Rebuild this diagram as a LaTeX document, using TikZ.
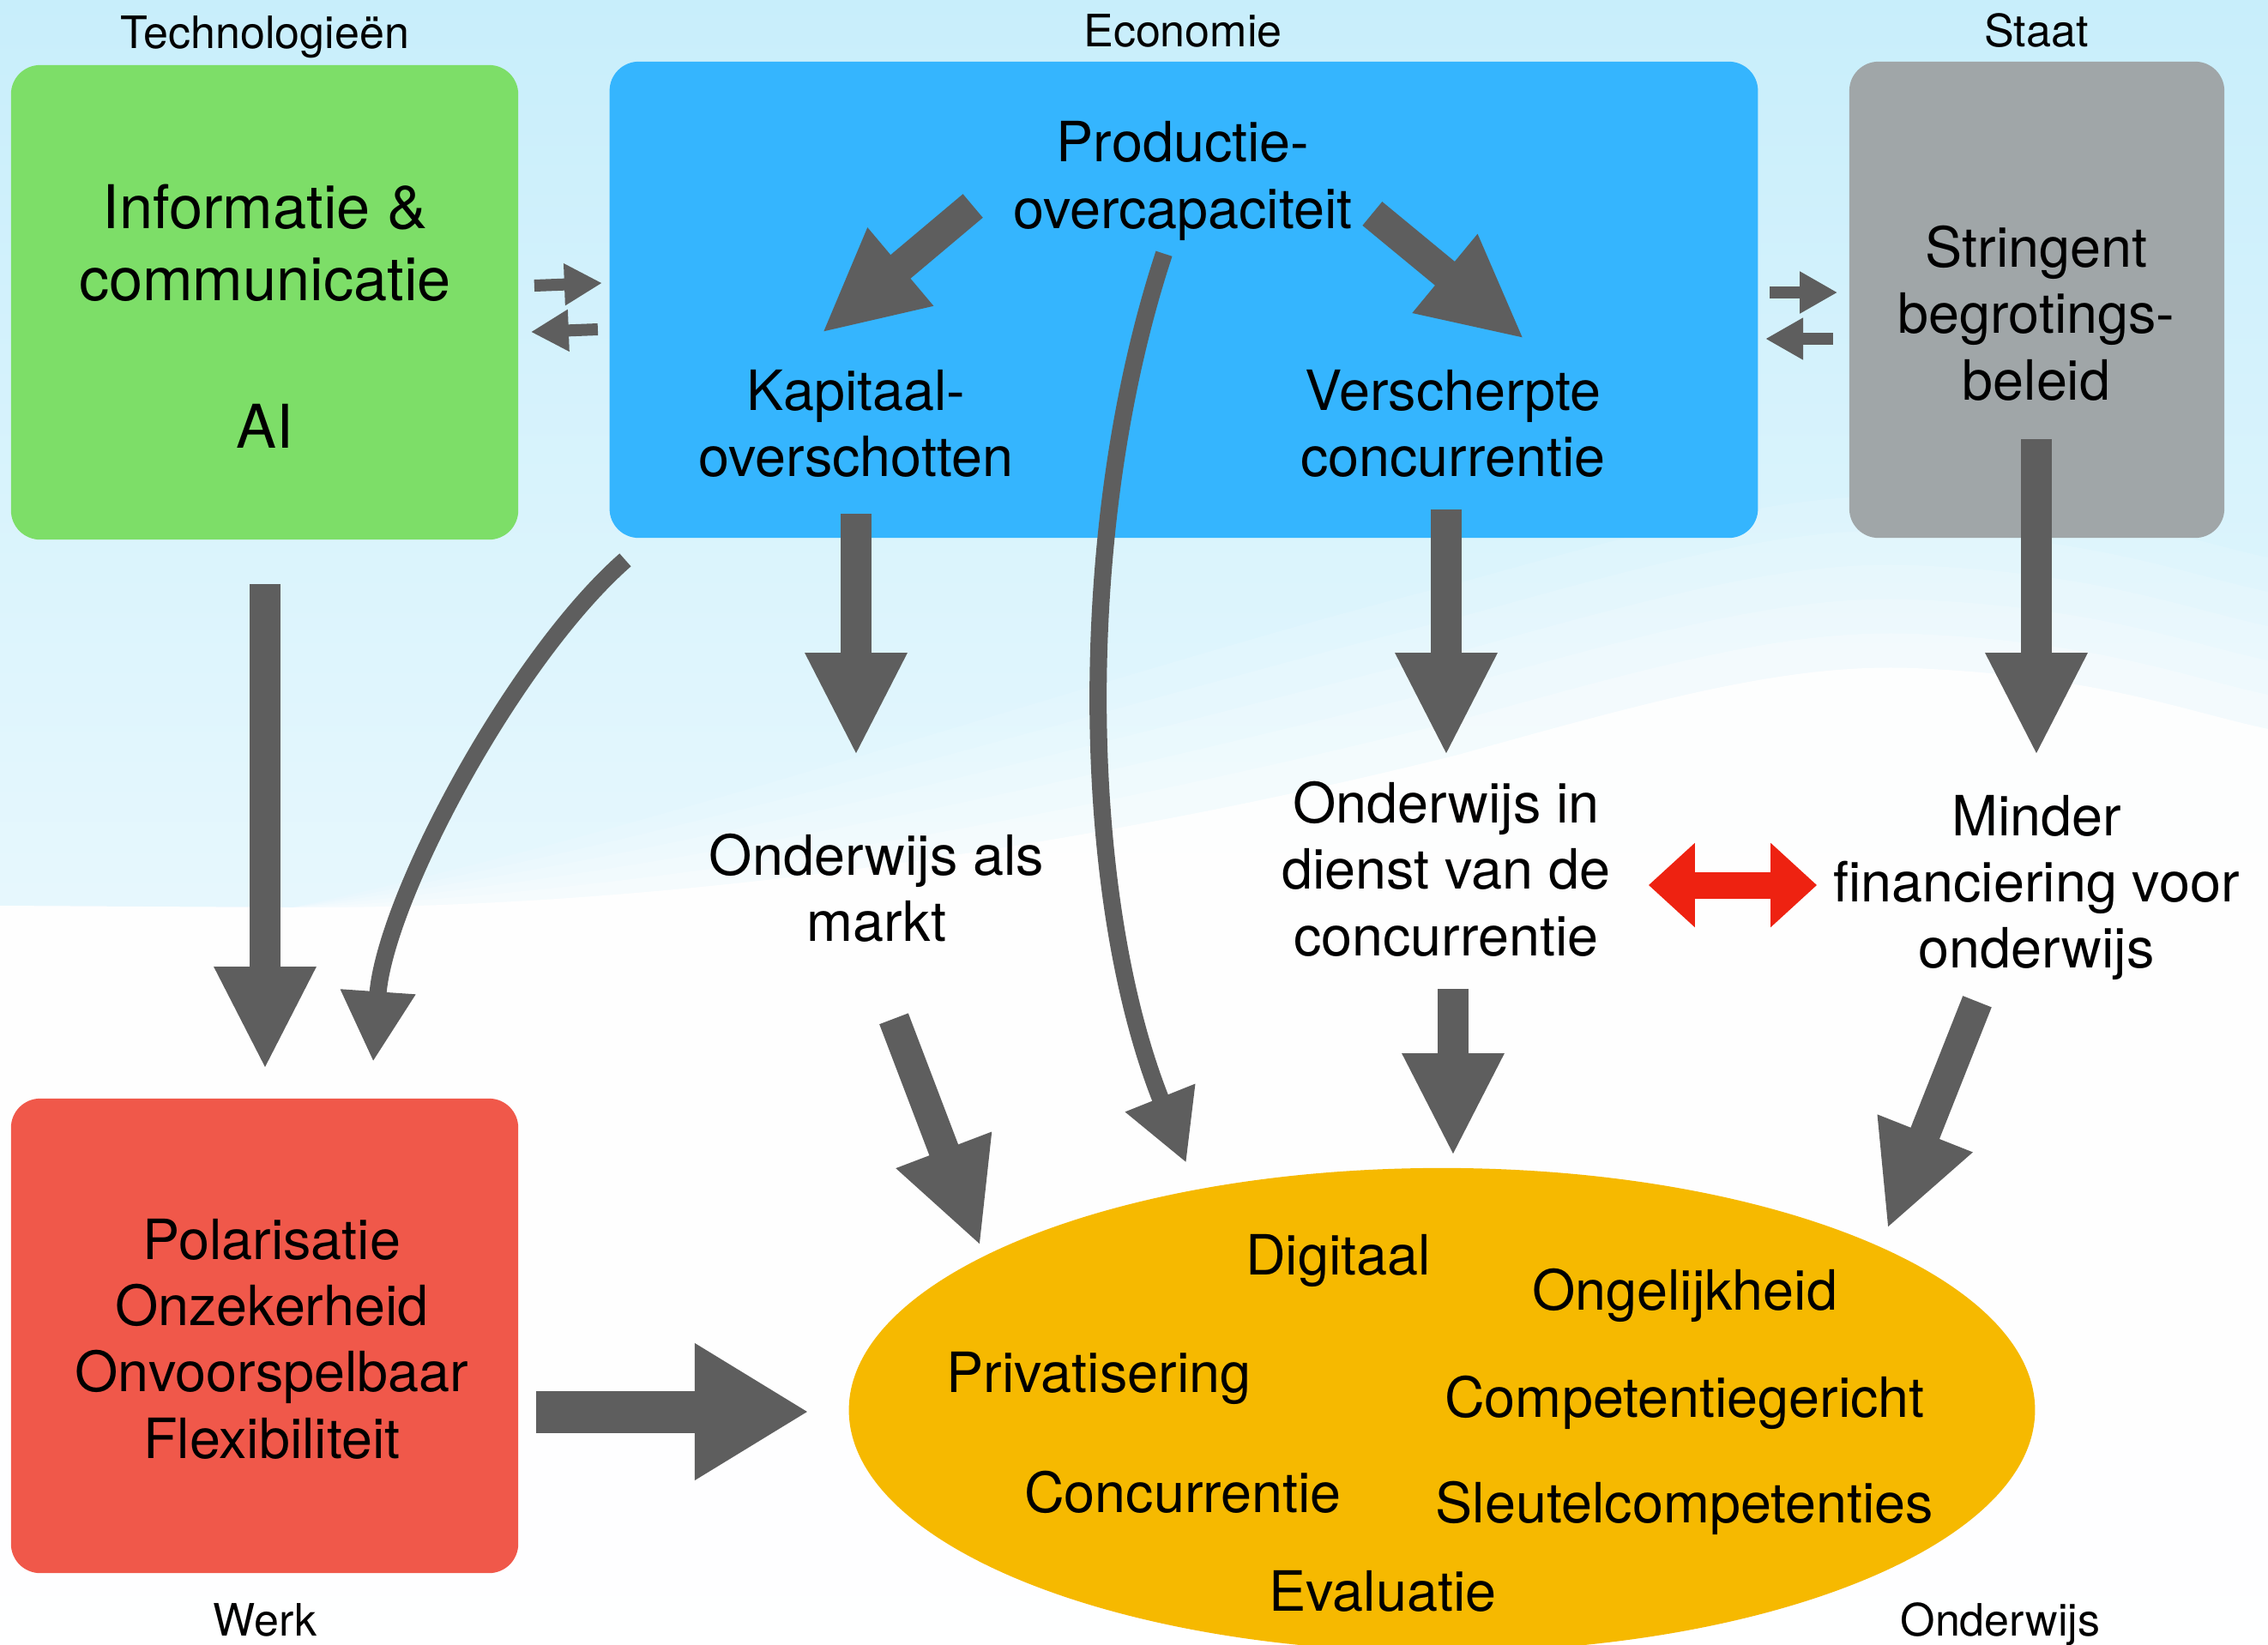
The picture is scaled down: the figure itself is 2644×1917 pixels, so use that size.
\documentclass[tikz,border=0pt]{standalone}
\usepackage{fontspec}
\setmainfont{TeX Gyre Heros}
\usetikzlibrary{arrows.meta,calc,shapes.geometric}
\definecolor{techgreen}{RGB}{125,222,104}
\definecolor{econblue}{RGB}{53,181,254}
\definecolor{staatgray}{RGB}{160,166,168}
\definecolor{werkred}{RGB}{240,88,74}
\definecolor{ondyellow}{RGB}{246,185,0}
\definecolor{arrowgray}{RGB}{94,94,94}
\definecolor{linkred}{RGB}{238,34,17}
\definecolor{skytop}{RGB}{200,238,251}
\definecolor{skymid}{RGB}{220,248,253}

\begin{document}
\begin{tikzpicture}[x=0.01cm,y=-0.01cm,
  box/.style={rounded corners=0.34cm,inner sep=0,minimum height=5.53cm},
  txt/.style={font=\fontsize{18.4}{22}\selectfont,align=center,inner sep=0},
  bigtxt/.style={font=\fontsize{20}{24}\selectfont,align=center,inner sep=0},
  hdr/.style={font=\fontsize{14.8}{17}\selectfont,anchor=base,inner sep=0},
  word/.style={txt,anchor=base},
  blk/.style={txt,minimum width=4.8cm,minimum height=2.6cm},
  fat/.style={draw=arrowgray,line width=0.36cm,-{Triangle[width=1.1cm,length=1.2cm]}},
  bent/.style={draw=arrowgray,line width=0.2cm,-{Triangle[width=0.82cm,length=0.82cm]}},
  tiny/.style={draw=arrowgray,line width=0.14cm,-{Triangle[width=0.46cm,length=0.44cm]}}]
  % frame 2644 x 1917, one unit = one pixel
  \useasboundingbox (0,0) rectangle (2644,1917);
  \clip (0,0) rectangle (2644,1917);
  % sky + soft white hills
  \shade[top color=skytop,middle color=skymid,bottom color=white] (0,0) rectangle (2644,1917);
  \foreach \s/\o in {200/0.12,160/0.14,120/0.16,80/0.2,40/0.3,0/0.9}
    \fill[white,opacity=\o] (0,1917) -- (0,1056) -- (340,1058)
      .. controls (800,1060-0.5*\s) and (1300,980-\s) .. (1700,880-\s)
      .. controls (1950,810-\s) and (2100,770-\s) .. (2250,780-\s)
      .. controls (2450,790-\s) and (2550,830-\s) .. (2644,850-\s) -- (2644,1917) -- cycle;
  % panels
  \node[box,fill=techgreen,minimum width=5.91cm] (tech) at (308.5,352.5) {};
  \node[box,fill=econblue,minimum width=13.38cm,minimum height=5.55cm] (econ) at (1380,349.5) {};
  \node[box,fill=staatgray,minimum width=4.37cm,minimum height=5.55cm] (staat) at (2374.5,349.5) {};
  \node[box,fill=werkred,minimum width=5.91cm] (werk) at (308.5,1557.5) {};
  \node[ellipse,fill=ondyellow,inner sep=0,minimum width=13.82cm,minimum height=5.64cm] (ond) at (1681,1644) {};
  % captions
  \node[hdr] (ltech) at (309,56) {Technologieën};
  \node[hdr] (lecon) at (1379,54) {Economie};
  \node[hdr] (lstaat) at (2374,54) {Staat};
  \node[hdr] (lwerk) at (309,1907) {Werk};
  \node[hdr] (lond) at (2332,1907) {Onderwijs};
  % panel texts
  \node[bigtxt] (ict) at (309,283) {Informatie \&\\communicatie};
  \node[bigtxt] (ai) at (309,497) {AI};
  \node[txt,minimum width=4.8cm,minimum height=1.6cm] (prod) at (1379,211) {Productie-\\overcapaciteit};
  \node[txt,minimum height=1.6cm] (kap) at (998,494) {Kapitaal-\\overschotten};
  \node[txt,minimum height=1.6cm] (versch) at (1694,494) {Verscherpte\\concurrentie};
  \node[txt,minimum height=2.6cm] (strg) at (2374,365) {Stringent\\begrotings-\\beleid};
  \node[txt] (werktxt) at (317,1561) {Polarisatie\\Onzekerheid\\Onvoorspelbaar\\Flexibiliteit};
  % middle row
  \node[blk] (markt) at (1022,1035) {Onderwijs als\\markt};
  \node[blk] (dienst) at (1686,1013) {Onderwijs in\\dienst van de\\concurrentie};
  \node[blk] (minder) at (2374,1035) {Minder\\financiering voor\\onderwijs};
  % inside the ellipse
  \node[word] (w1) at (1560,1486) {Digitaal};
  \node[word] (w2) at (1964,1527) {Ongelijkheid};
  \node[word] (w3) at (1281,1623) {Privatisering};
  \node[word] (w4) at (1964,1652) {Competentiegericht};
  \node[word] (w5) at (1379,1763) {Concurrentie};
  \node[word] (w6) at (1964,1775) {Sleutelcompetenties};
  \node[word] (w7) at (1612,1878) {Evaluatie};
  % small two-way arrows between panels
  \draw[tiny] ($(tech.east)+(18,-19.5)$) -- ($(econ.west)+(-8,-19.5)$);
  \draw[tiny] ($(econ.west)+(-13,34.5)$) -- ($(tech.east)+(14,34.5)$);
  \draw[tiny] ($(econ.east)+(13,-8.5)$) -- ($(staat.west)+(-13,-8.5)$);
  \draw[tiny] ($(staat.west)+(-18,45.5)$) -- ($(econ.east)+(8,45.5)$);
  % inside economie
  \draw[fat] ($(prod.west)+(-4,29)$) -- ($(kap.north)+(-40,-25)$);
  \draw[fat] ($(prod.east)+(-20,38)$) -- ($(versch.north)+(83,-18)$);
  % down the columns
  \draw[fat] ($(tech.south)+(0.5,51)$) -- ($(werk.north)+(0.5,-33)$);
  \draw[fat] ($(kap.south)+(0,24)$) -- ($(markt.north)+(-24,-23)$);
  \draw[fat] ($(versch.south)+(-8,19)$) -- ($(dienst.north)+(0,-1)$);
  \draw[fat] ($(strg.south)+(0,16)$) -- ($(minder.north)+(0,-23)$);
  % into onderwijs
  \draw[fat] ($(markt.south)+(20,22)$) -- ($(ond.center)+(-538,-191)$);
  \draw[fat] ($(dienst.south)+(8,9)$) -- ($(ond.north)+(13,-13)$);
  \draw[fat] ($(minder.south)+(-69,2)$) -- ($(ond.center)+(519,-211)$);
  \draw[fat,line width=0.49cm,-{Triangle[width=1.5cm,length=1.33cm]}] ($(werk.east)+(20,88.5)$) -- ($(ond.west)+(-46,2)$);
  % curved ones
  \draw[bent] ($(econ.south west)+(19,25)$) .. controls +(-130,114) and +(13,-189) .. ($(werk.north)+(126.5,-42)$);
  \draw[bent] ($(prod.south)+(-22,4)$) .. controls +(-107,325) and +(-123,-307) .. ($(ond.north)+(-298,-5)$);
  % red link
  \draw[linkred,line width=0.31cm,{Triangle[width=0.95cm,length=0.54cm]}-{Triangle[width=0.95cm,length=0.54cm]}]
    ($(dienst.east)+(-5,19)$) -- ($(minder.west)+(-15,-3)$);
\end{tikzpicture}
\end{document}
